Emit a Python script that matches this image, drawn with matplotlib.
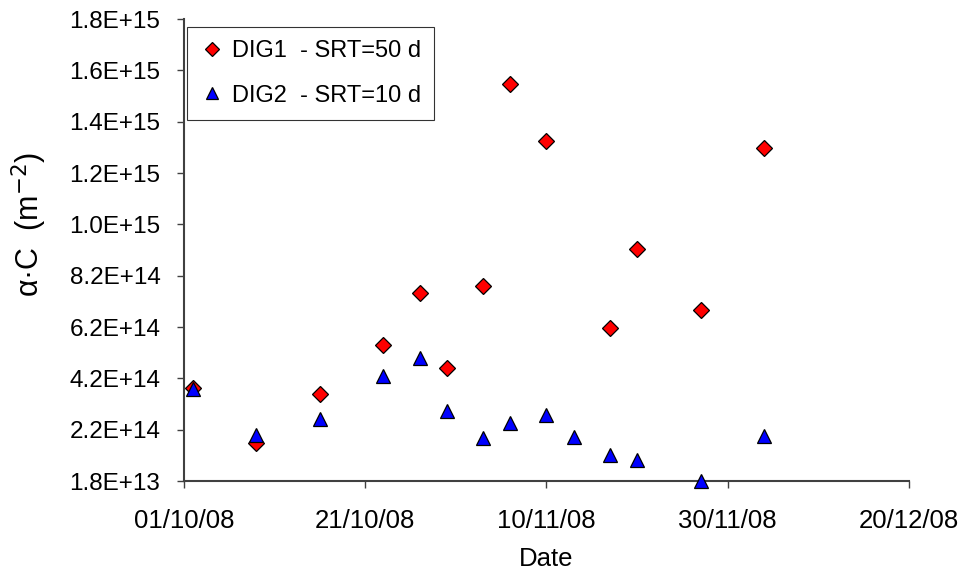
import datetime as dt
import matplotlib
matplotlib.use("Agg")
from matplotlib import pyplot as plt
import matplotlib.dates as mdates
from matplotlib.ticker import FixedLocator, FuncFormatter

plt.rcParams['font.family'] = ['Liberation Sans', 'DejaVu Sans']

# sampling dates and values
dig1_dates = ["2008-10-02", "2008-10-09", "2008-10-16", "2008-10-23", "2008-10-27",
              "2008-10-30", "2008-11-03", "2008-11-06", "2008-11-10", "2008-11-17",
              "2008-11-20", "2008-11-27", "2008-12-04"]
dig1_vals = [3.80e14, 1.66e14, 3.57e14, 5.48e14, 7.50e14,
             4.58e14, 7.78e14, 1.565e15, 1.343e15, 6.14e14,
             9.22e14, 6.84e14, 1.315e15]

dig2_dates = ["2008-10-02", "2008-10-09", "2008-10-16", "2008-10-23", "2008-10-27",
              "2008-10-30", "2008-11-03", "2008-11-06", "2008-11-10", "2008-11-13",
              "2008-11-17", "2008-11-20", "2008-11-27", "2008-12-04"]
dig2_vals = [3.76e14, 1.97e14, 2.60e14, 4.27e14, 4.97e14,
             2.90e14, 1.86e14, 2.44e14, 2.75e14, 1.89e14,
             1.19e14, 1.00e14, 1.8e13, 1.93e14]

y_ticks = [1.8e13 + k * 2e14 for k in range(10)]
x_ticks = ["2008-10-01", "2008-10-21", "2008-11-10", "2008-11-30", "2008-12-20"]


def to_dates(lst):
    return [dt.datetime.strptime(s, "%Y-%m-%d") for s in lst]


fig = plt.figure(figsize=(9.66, 5.74), dpi=100)
ax = fig.add_axes([184 / 966, 1 - 481 / 574, (909 - 184) / 966, (481 - 19) / 574])

ax.plot(to_dates(dig1_dates), dig1_vals, linestyle="none", marker="D", markersize=8,
        markerfacecolor="red", markeredgecolor="black", markeredgewidth=0.9,
        label="DIG1  - SRT=50 d", clip_on=False, zorder=3)
ax.plot(to_dates(dig2_dates), dig2_vals, linestyle="none", marker="^", markersize=10,
        markerfacecolor="blue", markeredgecolor="black", markeredgewidth=0.9,
        label="DIG2  - SRT=10 d", clip_on=False, zorder=4)

ax.set_xlim(to_dates(x_ticks)[0], to_dates(x_ticks)[-1])
ax.set_ylim(y_ticks[0], y_ticks[-1])
ax.xaxis.set_major_locator(FixedLocator(mdates.date2num(to_dates(x_ticks))))
ax.xaxis.set_major_formatter(mdates.DateFormatter("%d/%m/%y"))
ax.yaxis.set_major_locator(FixedLocator(y_ticks))
ax.yaxis.set_major_formatter(FuncFormatter(lambda v, p: "{:.1E}".format(v)))

for s in ["top", "right"]:
    ax.spines[s].set_visible(False)
for s in ["left", "bottom"]:
    ax.spines[s].set_color("#404040")
    ax.spines[s].set_linewidth(1.5)
ax.tick_params(axis="both", direction="out", length=5, width=1, color="#404040")
ax.tick_params(axis="y", labelsize=17.5, pad=12)
ax.tick_params(axis="x", labelsize=18.5, pad=15)

ax.set_xlabel("Date", fontsize=18.5, labelpad=10)
ax.set_ylabel("α·C  (m$^{-2}$)", fontsize=22)
ax.yaxis.set_label_coords(-0.186, 0.555)

leg = ax.legend(loc="upper left", bbox_to_anchor=(0.004, 0.982), fontsize=17,
                frameon=True, fancybox=False, edgecolor="black", handletextpad=0.35,
                borderpad=0.55, labelspacing=0.95, handlelength=1.0, borderaxespad=0,
                markerscale=0.85)
leg.get_frame().set_linewidth(0.8)

fig.savefig("out.png", dpi=100)
